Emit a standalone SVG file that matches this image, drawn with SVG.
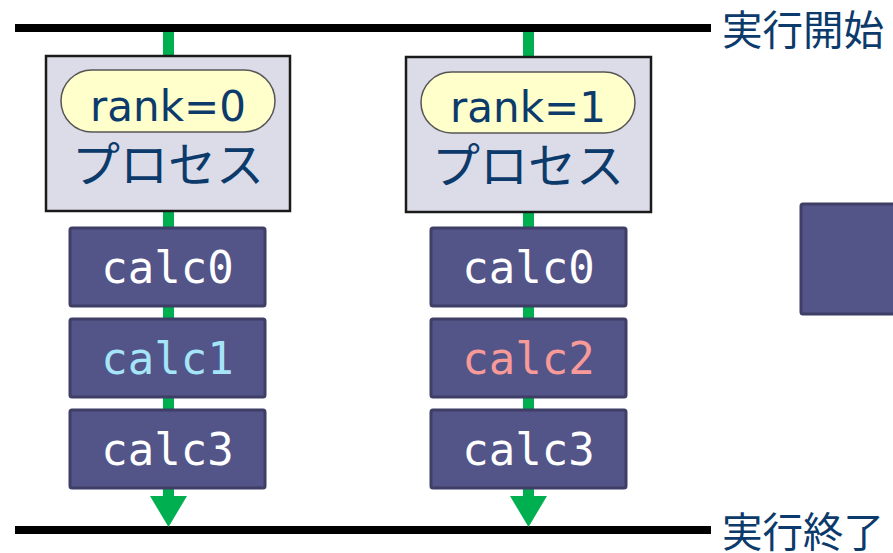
<svg xmlns="http://www.w3.org/2000/svg" width="893" height="553" viewBox="0 0 893 553">
  <style>
    .bar { stroke: #000; stroke-width: 8; }
    .flow { stroke: #00B050; stroke-width: 11; }
    .head { fill: #00B050; }
    .proc { fill: #DCDCE8; stroke: #1a1a1a; stroke-width: 2.5; }
    .pill { fill: #FFFFCC; stroke: #555; stroke-width: 1.5; }
    .rank { font-family: "DejaVu Sans", Verdana, sans-serif; font-size: 42px; fill: #0B3A6B; text-anchor: middle; }
    .jp { font-family: "Noto Sans CJK JP", "Noto Sans", sans-serif; fill: #0B3A6B; }
    .proclbl { font-size: 48px; text-anchor: middle; }
    .edge { font-size: 40.5px; }
    .calc { fill: #535488; stroke: #3E3E66; stroke-width: 3; }
    .ctext { font-family: "DejaVu Sans Mono", "Liberation Mono", monospace; font-size: 44px; text-anchor: middle; fill: #fff; }
  </style>

  <!-- start / end bars -->
  <g id="bars">
    <line class="bar" x1="15" y1="28" x2="711" y2="28"/>
    <line class="bar" x1="15" y1="530" x2="711" y2="530"/>
    <text class="jp edge" x="722" y="45">実行開始</text>
    <text class="jp edge" x="722" y="547">実行終了</text>
  </g>

  <!-- flow of each process -->
  <g id="connectors">
    <line class="flow" x1="168.5" y1="32" x2="168.5" y2="497"/>
    <polygon class="head" points="150,496 187,496 168.5,527"/>
    <line class="flow" x1="528.5" y1="32" x2="528.5" y2="497"/>
    <polygon class="head" points="510,496 547,496 528.5,527"/>
  </g>

  <g id="process0">
    <rect class="proc" x="46" y="56" width="244" height="155"/>
    <rect class="pill" x="61" y="70" width="214" height="62" rx="31"/>
    <text class="rank" x="168" y="121">rank=0</text>
    <text class="jp proclbl" x="168" y="182">プロセス</text>
  </g>

  <g id="process1">
    <rect class="proc" x="406" y="57" width="245" height="155"/>
    <rect class="pill" x="421" y="72" width="214" height="61" rx="30.5"/>
    <text class="rank" x="528" y="122">rank=1</text>
    <text class="jp proclbl" x="528" y="183">プロセス</text>
  </g>

  <g id="p0-calc0">
    <rect class="calc" x="70" y="228" width="195" height="78" rx="2"/>
    <text class="ctext" x="167.5" y="283">calc0</text>
  </g>
  <g id="p0-calc1">
    <rect class="calc" x="70" y="319" width="195" height="78" rx="2"/>
    <text class="ctext" x="167.5" y="374" style="fill:#A6E4F7">calc1</text>
  </g>
  <g id="p0-calc3">
    <rect class="calc" x="70" y="410" width="195" height="78" rx="2"/>
    <text class="ctext" x="167.5" y="465">calc3</text>
  </g>

  <g id="p1-calc0">
    <rect class="calc" x="431" y="228" width="195" height="78" rx="2"/>
    <text class="ctext" x="528.5" y="283">calc0</text>
  </g>
  <g id="p1-calc2">
    <rect class="calc" x="431" y="319" width="195" height="78" rx="2"/>
    <text class="ctext" x="528.5" y="374" style="fill:#F79A98">calc2</text>
  </g>
  <g id="p1-calc3">
    <rect class="calc" x="431" y="410" width="195" height="78" rx="2"/>
    <text class="ctext" x="528.5" y="465">calc3</text>
  </g>

  <g id="legend-box">
    <rect class="calc" x="801" y="204" width="100" height="110" rx="2"/>
  </g>
</svg>
